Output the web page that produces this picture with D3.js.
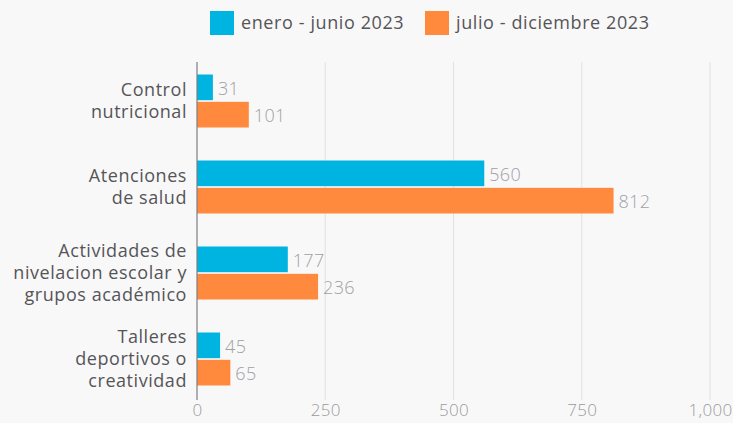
<!DOCTYPE html>
<html>
<head>
<meta charset="utf-8">
<script src="https://cdn.jsdelivr.net/npm/d3@7"></script>
<style>
  html, body { margin: 0; padding: 0; background: #f9f8f9; }
  svg { display: block; font-family: "Open Sans", "Lato", sans-serif; }
</style>
</head>
<body>
<svg id="chart" width="733" height="423"></svg>
<script>
// Categories (each label split into lines) and the two half-year series
const categories = [
  ["Control", "nutricional"],
  ["Atenciones", "de salud"],
  ["Actividades de", "nivelacion escolar y", "grupos académico"],
  ["Talleres", "deportivos o", "creatividad"]
];
const seriesNames = ["enero - junio 2023", "julio - diciembre 2023"];
const firstHalf = [31, 560, 177, 45];
const secondHalf = [101, 812, 236, 65];
const tickValues = [0, 250, 500, 750, 1000];
const colors = ["#00b4e2", "#ff8a3d"];

const svg = d3.select("#chart");
const margin = { left: 197, right: 23, top: 58, bottom: 21 };
const W = 733, H = 423;

const x = d3.scaleLinear().domain([0, 1000]).range([margin.left, W - margin.right]);
const y = d3.scaleBand().domain(d3.range(categories.length))
  .range([margin.top, H - margin.bottom]);
const inner = d3.scaleBand().domain([0, 1]).range([0, 53]).paddingInner(0.06);
const groupOffset = (y.bandwidth() - 53) / 2;

// Vertical gridlines
svg.append("g").selectAll("line").data(tickValues.slice(1)).join("line")
  .attr("x1", d => x(d)).attr("x2", d => x(d))
  .attr("y1", margin.top + 4).attr("y2", H - margin.bottom - 2)
  .attr("stroke", "#e2e0e2").attr("stroke-width", 1);

// Bottom axis tick labels
const xAxis = d3.axisBottom(x).tickValues(tickValues).tickFormat(d3.format(",")).tickSize(0).tickPadding(5);
const ax = svg.append("g").attr("transform", `translate(0,${H - margin.bottom - 3})`).call(xAxis);
ax.select(".domain").remove();
ax.selectAll("text").attr("fill", "#9a9a9e").attr("font-size", 17)
  .attr("font-family", "'Open Sans', sans-serif").attr("font-weight", 300)
  .attr("letter-spacing", "0.3px");

// Bars with value labels
const series = [firstHalf, secondHalf];
const groups = svg.append("g").selectAll("g").data(categories).join("g")
  .attr("transform", (d, i) => `translate(0,${y(i) + groupOffset})`);

groups.each(function (cat, i) {
  const g = d3.select(this);
  series.forEach((vals, s) => {
    g.append("rect")
      .attr("x", x(0)).attr("y", inner(s))
      .attr("width", x(vals[i]) - x(0)).attr("height", inner.bandwidth())
      .attr("fill", colors[s]);
    g.append("text")
      .attr("x", x(vals[i]) + 5).attr("y", inner(s) + inner.bandwidth() / 2 + 1)
      .attr("dy", "0.36em")
      .attr("fill", "#a0a0a4").attr("font-size", 18).attr("font-weight", 300)
      .attr("letter-spacing", "0.3px")
      .text(vals[i]);
  });
  // Category label lines, right aligned and centred on the group
  const lh = 22;
  const t = g.append("text").attr("text-anchor", "end")
    .attr("fill", "#555558").attr("font-size", 18).attr("letter-spacing", "0.55px");
  cat.forEach((line, k) => {
    t.append("tspan").attr("x", margin.left - 10)
      .attr("y", 53 / 2 + (k - (cat.length - 1) / 2) * lh)
      .attr("dy", "0.35em").text(line);
  });
});

// Axis baseline
svg.append("line")
  .attr("x1", x(0)).attr("x2", x(0))
  .attr("y1", margin.top + 4).attr("y2", H - margin.bottom - 2)
  .attr("stroke", "#7d7d82").attr("stroke-width", 1.2);

// Legend
const legendPos = [210, 425];
const legend = svg.append("g").selectAll("g").data(seriesNames).join("g")
  .attr("transform", (d, i) => `translate(${legendPos[i]},11)`);
legend.append("rect").attr("width", 24).attr("height", 24).attr("fill", (d, i) => colors[i]);
legend.append("text").attr("x", 31).attr("y", 12).attr("dy", "0.35em")
  .attr("fill", "#555558").attr("font-size", 18).attr("letter-spacing", "0.6px").text(d => d);
</script>
</body>
</html>
